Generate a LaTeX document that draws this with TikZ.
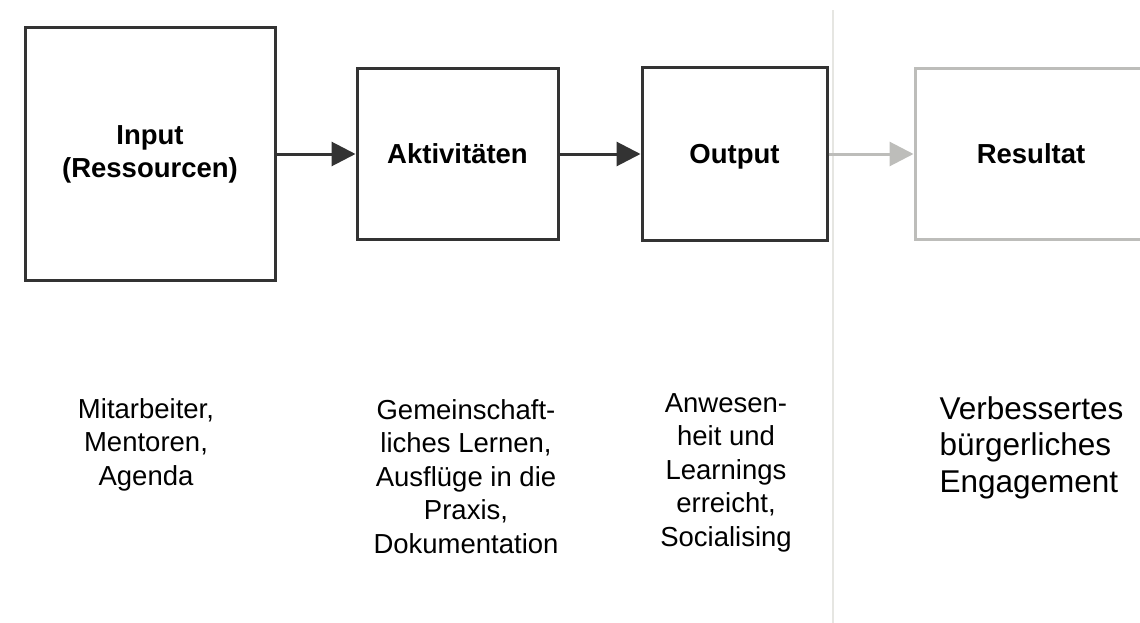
\documentclass[tikz,border=0pt]{standalone}
\usepackage{fontspec}
\setmainfont{Liberation Sans}
\usetikzlibrary{arrows.meta}
\definecolor{boxgray}{HTML}{333333}
\definecolor{fadegray}{HTML}{BDBDBA}
\definecolor{rulegray}{HTML}{E6E6E2}

\begin{document}
\begin{tikzpicture}[x=1pt,y=-1pt,line width=3pt]
    \def\lblfont{\fontsize{27.5}{33}\selectfont\bfseries}
    \def\notefont{\fontsize{27.5}{33.5}\selectfont}
    \tikzstyle{stage}=[draw=boxgray, rectangle, inner sep=0pt, align=center, font=\lblfont]
    \tikzstyle{faded stage}=[stage, draw=fadegray]
    \tikzstyle{flow}=[-{Triangle[length=24pt,width=24pt]}, draw=boxgray]
    \tikzstyle{faded flow}=[flow, draw=fadegray, fill=fadegray]
    \tikzstyle{note}=[anchor=north, inner sep=0pt, align=center, font=\notefont]

    \useasboundingbox (0,0) rectangle (1140,623);
    \clip (0,0) rectangle (1140,623);

    % Draw the dividing rule behind everything
    \coordinate (R-top) at (833,10);
    \coordinate (R-bot) at (833,623);
    \draw[rulegray, line width=2.5pt] (R-top) -- (R-bot);

    % Draw the stage boxes
    \node[stage, minimum width=250pt, minimum height=252pt] (S-1) at (150,154) {Input\\(Ressourcen)};
    \node[stage, minimum width=201pt, minimum height=171pt] (S-2) at (457.5,154) {Aktivitäten};
    \node[stage, minimum width=185pt, minimum height=172pt, text depth=0pt] (S-3) at (734.5,154) {Output};
    \node[faded stage, minimum width=232pt, minimum height=171pt] (S-4) at (1031,154) {Resultat};

    % Connect each stage with the next one
    \foreach \source/\dest in {1/2,2/3}
        \draw[flow] (S-\source) -- (S-\dest);
    \draw[faded flow] (S-3) -- (S-4);

    % Notes under the stages
    \node[note] (N-1) at (146,397) {Mitarbeiter,\\Mentoren,\\Agenda};
    \node[note] (N-2) at (466,398) {Gemeinschaft-\\liches Lernen,\\Ausflüge in die\\Praxis,\\Dokumentation};
    \node[note] (N-3) at (726,392) {Anwesen-\\heit und\\Learnings\\erreicht,\\Socialising};
    \node[note, anchor=north west, align=left, font=\fontsize{31.5}{36.5}\selectfont] (N-4) at (938,395) {Verbessertes\\bürgerliches\\Engagement};
\end{tikzpicture}
\end{document}
